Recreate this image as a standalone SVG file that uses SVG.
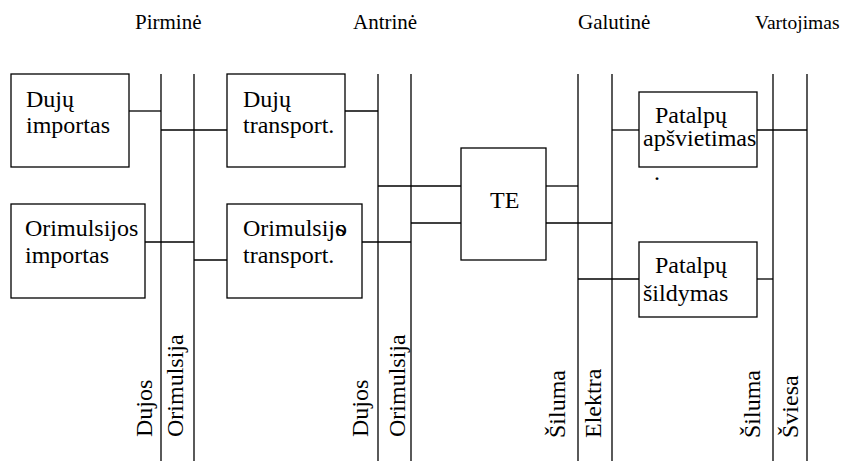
<svg xmlns="http://www.w3.org/2000/svg" width="846" height="461" viewBox="0 0 846 461" font-family="'Liberation Serif', 'Times New Roman', Times, serif">
<style>
text{font-family:'Liberation Serif','Times New Roman',Times,serif;fill:#000}
.t{font-size:24px}
.h{font-size:21px}
.b{fill:#fff;stroke:#000;stroke-width:1.3}
.l{stroke:#000;stroke-width:1.3;fill:none}
</style>
<rect width="846" height="461" fill="#fff"/>
<g id="headers">
<text class="h" x="135" y="29">Pirminė</text>
<text class="h" x="353" y="29">Antrinė</text>
<text class="h" x="578" y="29">Galutinė</text>
<text class="h" x="755" y="29" font-size="19.5px" style="font-size:19.5px">Vartojimas</text>
</g>
<g id="connectors" class="l">
<line x1="161" y1="74" x2="161" y2="461"/>
<line x1="194" y1="74" x2="194" y2="461"/>
<line x1="378" y1="74" x2="378" y2="461"/>
<line x1="411" y1="74" x2="411" y2="461"/>
<line x1="578" y1="74" x2="578" y2="461"/>
<line x1="612" y1="74" x2="612" y2="461"/>
<line x1="773" y1="74" x2="773" y2="461"/>
<line x1="807" y1="74" x2="807" y2="461"/>
<line x1="129" y1="111" x2="161" y2="111"/>
<line x1="161" y1="130" x2="227" y2="130"/>
<line x1="145" y1="242" x2="194" y2="242"/>
<line x1="194" y1="260" x2="227" y2="260"/>
<line x1="345" y1="111" x2="378" y2="111"/>
<line x1="362" y1="242" x2="411" y2="242"/>
<line x1="378" y1="186" x2="461" y2="186"/>
<line x1="411" y1="223" x2="461" y2="223"/>
<line x1="546" y1="186" x2="578" y2="186"/>
<line x1="546" y1="223" x2="612" y2="223"/>
<line x1="612" y1="130" x2="639" y2="130"/>
<line x1="757" y1="130" x2="807" y2="130"/>
<line x1="578" y1="279" x2="639" y2="279"/>
<line x1="757" y1="279" x2="773" y2="279"/>
</g>
<g id="n-duju-importas">
<rect class="b" x="11" y="74" width="118" height="93"/>
<text class="t" x="26" y="107">Dujų</text>
<text class="t" x="26" y="133">importas</text>
</g>
<g id="n-orimulsijos-importas">
<rect class="b" x="11" y="204" width="134" height="94"/>
<text class="t" x="25" y="236">Orimulsijos</text>
<text class="t" x="25" y="263">importas</text>
</g>
<g id="n-duju-transport">
<rect class="b" x="227" y="74" width="118" height="93"/>
<text class="t" x="243" y="107">Dujų</text>
<text class="t" x="243" y="133">transport.</text>
</g>
<g id="n-orimulsijos-transport">
<rect class="b" x="227" y="204" width="135" height="94"/>
<text class="t" x="243" y="236">Orimulsijo<tspan dx="-11">s</tspan></text>
<text class="t" x="243" y="263">transport.</text>
</g>
<g id="n-te">
<rect class="b" x="461" y="148" width="85" height="112"/>
<text class="t" x="490" y="208">TE</text>
</g>
<g id="n-apsvietimas">
<rect class="b" x="639" y="92" width="118" height="75"/>
<text class="t" x="655" y="123">Patalpų</text>
<text class="t" x="643" y="146">apšvietimas</text>
<text class="t" x="654" y="180">.</text>
</g>
<g id="n-sildymas">
<rect class="b" x="639" y="242" width="118" height="75"/>
<text class="t" x="655" y="273">Patalpų</text>
<text class="t" x="643" y="301">šildymas</text>
</g>
<g id="line-labels">
<text class="t" transform="translate(152,437) rotate(-90)">Dujos</text>
<text class="t" transform="translate(183,437) rotate(-90)">Orimulsija</text>
<text class="t" transform="translate(368,437) rotate(-90)">Dujos</text>
<text class="t" transform="translate(405,437) rotate(-90)">Orimulsija</text>
<text class="t" transform="translate(565,438) rotate(-90)">Šiluma</text>
<text class="t" transform="translate(601,438) rotate(-90)">Elektra</text>
<text class="t" transform="translate(760,438) rotate(-90)">Šiluma</text>
<text class="t" transform="translate(798,438) rotate(-90)">Šviesa</text>
</g>
</svg>
